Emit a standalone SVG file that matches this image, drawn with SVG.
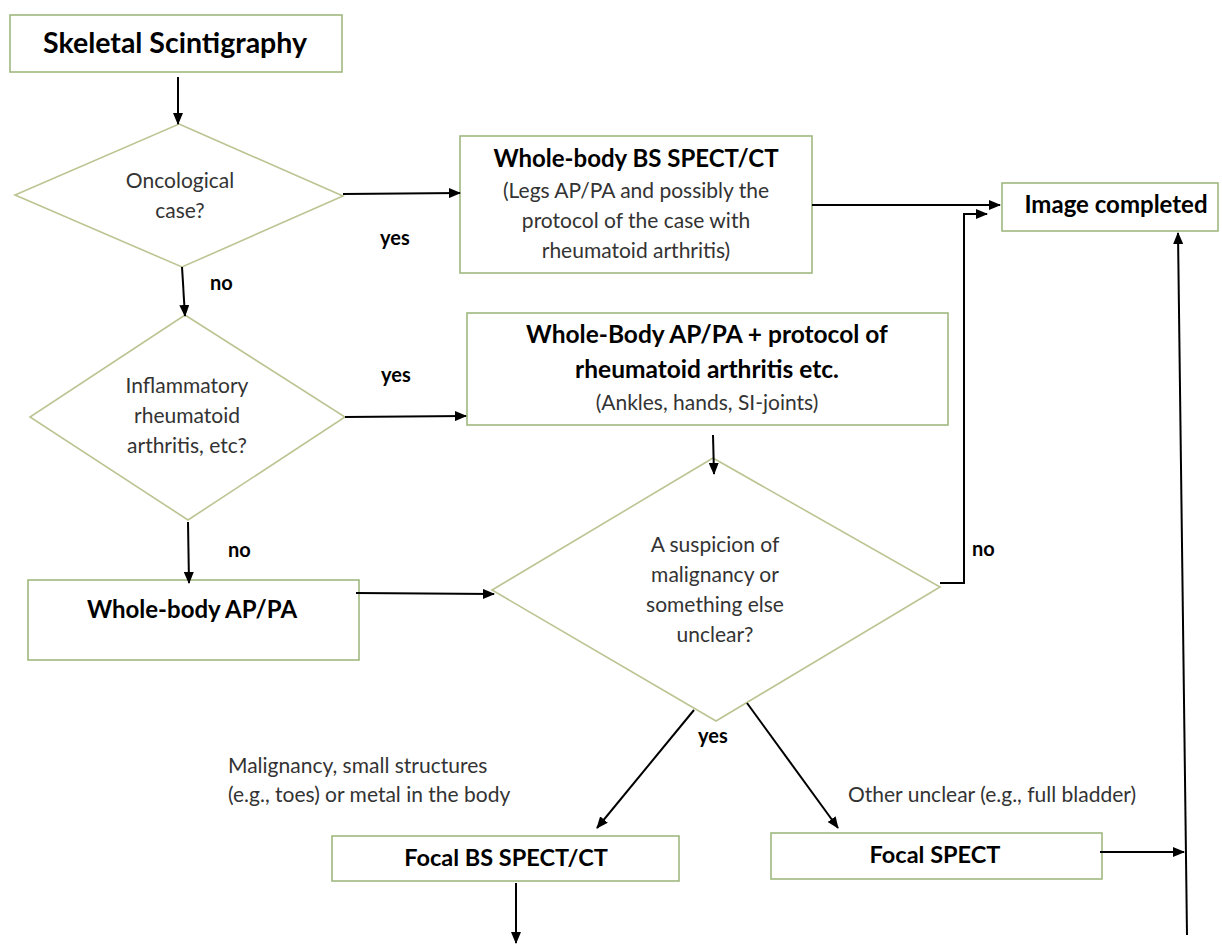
<svg xmlns="http://www.w3.org/2000/svg" width="1222" height="944" viewBox="0 0 1222 944">
<style>
.box{fill:#ffffff;stroke:#9fb87f;stroke-width:1.6}
.dia{fill:#ffffff;stroke:#bcc492;stroke-width:1.6}
.t{font-family:Lato,"Open Sans","Liberation Sans",sans-serif;fill:#111}
.h{font-weight:bold;fill:#000}
.c{text-anchor:middle}
.r{font-size:21px;fill:#333}
.lab{font-size:20px;font-weight:bold;fill:#000}
.ln{fill:none;stroke:#000;stroke-width:2}
</style>
<defs>
<marker id="ah" markerWidth="12" markerHeight="10" refX="11" refY="5" orient="auto" markerUnits="userSpaceOnUse">
<path d="M0,0 L12,5 L0,10 Z" fill="#000"/>
</marker>
</defs>
<rect width="1222" height="944" fill="#ffffff"/>

<g id="n-skeletal">
<rect class="box" x="10" y="15" width="332" height="57"/>
<text class="t h c" x="175" y="53" font-size="28.5">Skeletal Scintigraphy</text>
</g>

<g id="n-oncological">
<polygon class="dia" points="179,124 343,196 182,267 15,195"/>
<text class="t r c" x="180" y="188">Oncological</text>
<text class="t r c" x="180" y="218">case?</text>
</g>

<g id="n-wb-spect">
<rect class="box" x="460" y="136" width="352" height="137"/>
<text class="t h c" x="636" y="167" font-size="24">Whole-body BS SPECT/CT</text>
<text class="t r c" x="636" y="198" font-size="21.5">(Legs AP/PA and possibly the</text>
<text class="t r c" x="636" y="228" font-size="21.5">protocol of the case with</text>
<text class="t r c" x="636" y="258" font-size="21.5">rheumatoid arthritis)</text>
</g>

<g id="n-image-completed">
<rect class="box" x="1002" y="183" width="216" height="48"/>
<text class="t h c" x="1116" y="213" font-size="24">Image completed</text>
</g>

<g id="n-inflammatory">
<polygon class="dia" points="185,315 345,417 188,520 30,417"/>
<text class="t r c" x="187" y="393">Inflammatory</text>
<text class="t r c" x="187" y="423">rheumatoid</text>
<text class="t r c" x="187" y="453">arthritis, etc?</text>
</g>

<g id="n-wb-ra">
<rect class="box" x="467" y="313" width="481" height="112"/>
<text class="t h c" x="707" y="343" font-size="24.5">Whole-Body AP/PA + protocol of</text>
<text class="t h c" x="707" y="378" font-size="24.5">rheumatoid arthritis etc.</text>
<text class="t r c" x="707" y="410">(Ankles, hands, SI-joints)</text>
</g>

<g id="n-wb-appa">
<rect class="box" x="28" y="580" width="331" height="80"/>
<text class="t h c" x="192" y="618" font-size="24">Whole-body AP/PA</text>
</g>

<g id="n-suspicion">
<polygon class="dia" points="713,458 940,587 716,721 492,590"/>
<text class="t r c" x="715" y="552">A suspicion of</text>
<text class="t r c" x="715" y="582">malignancy or</text>
<text class="t r c" x="715" y="612">something else</text>
<text class="t r c" x="715" y="642">unclear?</text>
</g>

<g id="n-focal-bs">
<rect class="box" x="332" y="836" width="347" height="45"/>
<text class="t h c" x="506" y="866" font-size="23.5">Focal BS SPECT/CT</text>
</g>

<g id="n-focal-spect">
<rect class="box" x="771" y="833" width="331" height="46"/>
<text class="t h c" x="935" y="863" font-size="23.5">Focal SPECT</text>
</g>

<g id="labels">
<text class="t lab" x="380" y="245">yes</text>
<text class="t lab" x="210" y="290">no</text>
<text class="t lab" x="381" y="382">yes</text>
<text class="t lab" x="228" y="557">no</text>
<text class="t lab" x="972" y="556">no</text>
<text class="t lab" x="698" y="743">yes</text>
<text class="t r" x="228" y="773">Malignancy, small structures</text>
<text class="t r" x="228" y="802">(e.g., toes) or metal in the body</text>
<text class="t r" x="848" y="802">Other unclear (e.g., full bladder)</text>
</g>

<g id="connectors">
<line class="ln" x1="178" y1="77" x2="178" y2="124" marker-end="url(#ah)"/>
<line class="ln" x1="343" y1="194" x2="460" y2="193" marker-end="url(#ah)"/>
<line class="ln" x1="182" y1="267" x2="185" y2="316" marker-end="url(#ah)"/>
<line class="ln" x1="812" y1="205" x2="1000" y2="205" marker-end="url(#ah)"/>
<line class="ln" x1="345" y1="417" x2="466" y2="416" marker-end="url(#ah)"/>
<line class="ln" x1="188" y1="522" x2="189" y2="583" marker-end="url(#ah)"/>
<line class="ln" x1="713" y1="435" x2="714" y2="474" marker-end="url(#ah)"/>
<line class="ln" x1="356" y1="593" x2="494" y2="594" marker-end="url(#ah)"/>
<polyline class="ln" points="940,583 964,583 964,214 987,214" marker-end="url(#ah)"/>
<line class="ln" x1="694" y1="710" x2="597" y2="828" marker-end="url(#ah)"/>
<line class="ln" x1="747" y1="703" x2="838" y2="828" marker-end="url(#ah)"/>
<line class="ln" x1="516" y1="883" x2="516" y2="943" marker-end="url(#ah)"/>
<line class="ln" x1="1100" y1="852" x2="1184" y2="852" marker-end="url(#ah)"/>
<line class="ln" x1="1187" y1="935" x2="1178" y2="233" marker-end="url(#ah)"/>
</g>
</svg>
